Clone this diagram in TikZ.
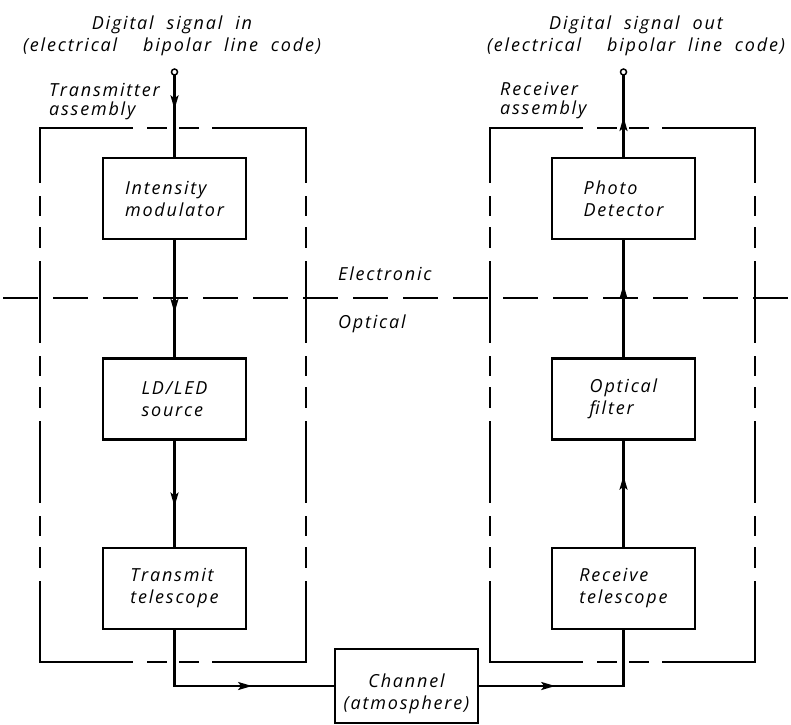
\documentclass[tikz,border=0pt]{standalone}
\usepackage{fontspec}
\setmainfont{Open Sans}[LetterSpace=10,WordSpace=2.0]
\usetikzlibrary{arrows.meta}
\usetikzlibrary{decorations.markings}
\tikzset{
    mytext/.style={font=\fontsize{18}{22}\selectfont\itshape,inner sep=0},
    asmtext/.style={font=\fontsize{18}{19}\selectfont\itshape,inner sep=0,align=left,anchor=west},
    blockbox/.style={mytext,draw,line width=2.2pt,minimum width=143,minimum height=81,align=left},
    conn/.style={line width=2.2pt},
    midarrow/.style={postaction={decorate},decoration={markings,
        mark=at position #1 with {\arrow{Stealth[length=14pt,width=8pt,inset=3pt]}}}},
    asmh/.style={line width=2.2pt,line cap=rect,dash pattern=on 92pt off 16pt on 18pt off 14pt on 18pt off 15pt},
    asmv/.style={line width=2.2pt,line cap=rect,dash pattern=on 80pt off 15pt on 18pt off 13pt on 19pt off 15pt,dash phase=26pt},
    domline/.style={line width=2.2pt,dash pattern=on 35pt off 15pt}
}

\begin{document}
\begin{tikzpicture}[x=1pt,y=-1pt]
        \useasboundingbox (0,0) rectangle (791,724);

        % assembly frames
        \coordinate (txnw) at (40,128);
        \coordinate (txse) at (306,662);
        \coordinate (rxnw) at (490,128);
        \coordinate (rxse) at (755,662);
        \draw[asmh] (txnw) -- (txnw -| txse);
        \draw[asmh] (txnw |- txse) -- (txse);
        \draw[asmv] (txnw) -- (txnw |- txse);
        \draw[asmv] (txnw -| txse) -- (txse);
        \draw[asmh] (rxnw) -- (rxnw -| rxse);
        \draw[asmh] (rxnw |- rxse) -- (rxse);
        \draw[asmv] (rxnw) -- (rxnw |- rxse);
        \draw[asmv] (rxnw -| rxse) -- (rxse);

        % electronic / optical border
        \coordinate (domw) at (3,298);
        \coordinate (dome) at (791,298);
        \draw[domline] (domw) -- (dome);
        \node[mytext,anchor=base west] (elec) at (338,280) {Electronic};
        \node[mytext,anchor=base west] (opt) at (338,328) {Optical};

        % blocks
        \node[blockbox] (imod) at (174.5,198.5) {Intensity\\modulator};
        \node[blockbox] (ldled) at (174.5,399) {LD/LED\\source};
        \node[blockbox] (txtel) at (174.5,588.5) {Transmit\\telescope};
        \node[blockbox] (pdet) at (623.5,198.5) {Photo\\Detector};
        \node[blockbox] (ofilt) at (623.5,399) {Optical\\filter};
        \node[blockbox] (rxtel) at (623.5,588.5) {Receive\\telescope};
        \node[blockbox,minimum height=74] (chan) at (406.5,686) {};
        \node[mytext,align=center] (chantxt) at (406.5,694) {Channel\\(atmosphere)};

        % signal ends
        \coordinate (sigin) at (174.5,72);
        \coordinate (sigout) at (623.5,72);
        \node[mytext,align=center] (intxt) at (172,36) {Digital signal in\\(electrical\ \ bipolar line code)};
        \node[mytext,align=center] (outtxt) at (636,36) {Digital signal out\\(electrical\ \ bipolar line code)};
        \node[asmtext] (txasm) at (49,102) {Transmitter\\assembly};
        \node[asmtext] (rxasm) at (500,101) {Receiver\\assembly};

        %arrows
        \draw[conn,midarrow=0.44] (sigin) -- (imod);
        \draw[conn,midarrow=0.62] (imod) -- (ldled);
        \draw[conn,midarrow=0.62] (ldled) -- (txtel);
        \draw[conn,midarrow=0.62] (txtel) |- (chan);
        \draw[conn,midarrow=0.38] (chan) -| (rxtel);
        \draw[conn,midarrow=0.67] (rxtel) -- (ofilt);
        \draw[conn,midarrow=0.62] (ofilt) -- (pdet);
        \draw[conn,midarrow=0.47] (pdet) -- (sigout);
        \draw[line width=1.5pt,fill=white] (sigin) circle (3);
        \draw[line width=1.5pt,fill=white] (sigout) circle (3);
\end{tikzpicture}
\end{document}
